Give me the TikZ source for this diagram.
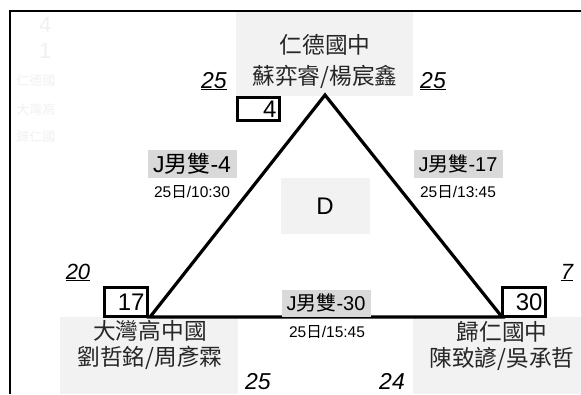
\documentclass[tikz,border=0pt]{standalone}
\usepackage{fontspec}
\setmainfont{Liberation Sans}
\newfontfamily\cjk{Noto Sans CJK TC}

\tikzset{
  namebg/.style={fill=gray!10},
  matchbg/.style={fill=gray!30, inner sep=1pt, minimum width=89pt, minimum height=28pt},
  edge/.style={line width=3.2pt},
  school/.style={font=\fontsize{22.7}{26}\selectfont\cjk, align=center, text=black!85},
  pts/.style={font=\fontsize{23}{26}\selectfont\itshape},
  seedbox/.style={draw, line width=3pt, text width=36pt, align=right,
    minimum height=23pt, inner sep=3pt, font=\fontsize{24}{26}\selectfont},
  matchname/.style={matchbg, font=\fontsize{20}{24}\selectfont},
  matchtime/.style={font=\fontsize{15.5}{18}\selectfont},
  faint/.style={text=gray!12, anchor=east}
}

\begin{document}
\begin{tikzpicture}[x=1pt, y=-1pt]
  % Page and frame
  \useasboundingbox (0,0) rectangle (581,394);
  \draw[line width=2pt] (10,394) -- (10,11) -- (581,11);

  % Faint list at the top left
  \node[faint, font=\fontsize{22}{24}\selectfont] (hidA) at (55,25) {4};
  \node[faint, font=\fontsize{22}{24}\selectfont] (hidB) at (55,51) {1};
  \node[faint, font=\fontsize{13}{15}\selectfont\cjk] (hidC) at (59,81) {仁德國};
  \node[faint, font=\fontsize{13}{15}\selectfont\cjk] (hidD) at (59,110) {大灣高};
  \node[faint, font=\fontsize{13}{15}\selectfont\cjk] (hidE) at (59,137) {歸仁國};

  % Shaded team boxes
  \fill[namebg] (236,12) rectangle (413,96);
  \fill[namebg] (60,317) rectangle (238,394);
  \fill[namebg] (413,317) rectangle (581,394);

  % Triangle of the group
  \coordinate (apex) at (325,95);
  \coordinate (west) at (150,317);
  \coordinate (east) at (502,317);
  \draw[edge] (apex) -- (west) -- (east) -- cycle;

  % Teams
  \node[school, font=\fontsize{22.7}{31}\selectfont\cjk] (renDe) at (325,61) {仁德國中\\蘇弈睿/楊宸鑫};
  \node[school] (daWan) at (150,345) {大灣高中國\\劉哲銘/周彥霖};
  \node[school] (guiRen) at (502,346) {歸仁國中\\陳致諺/吳承哲};

  % Seeds
  \node[seedbox, anchor=north west] (seedTop) at (236,96) {4};
  \node[seedbox, anchor=south east, minimum height=29pt, text width=37pt] (seedWest) at (149,318) {17};
  \node[seedbox, anchor=south west, minimum height=29pt, text width=37pt] (seedEast) at (501,318) {30};

  % Points
  \node[pts, anchor=base] (ptsA) at (214,88) {\underline{25}};
  \node[pts, anchor=base] (ptsB) at (433,88) {\underline{25}};
  \node[pts, anchor=base, font=\fontsize{22}{26}\selectfont\itshape] (ptsC) at (78,279) {\underline{20}};
  \node[pts, anchor=base, font=\fontsize{22}{26}\selectfont\itshape] (ptsD) at (567,279) {\underline{7}};
  \node[pts, anchor=base] (ptsE) at (258,389) {25};
  \node[pts, anchor=base] (ptsF) at (392,389) {24};

  % Matches
  \node[matchname, font=\fontsize{23}{26}\selectfont] (gameA) at (192,164) {J{\cjk 男雙}-4};
  \node[matchtime] (timeA) at (192,192) {25{\cjk 日}/10:30};
  \node[matchname] (gameB) at (458,164) {J{\cjk 男雙}-17};
  \node[matchtime] (timeB) at (458,192) {25{\cjk 日}/13:45};
  \node[matchname, minimum height=27pt] (gameC) at (326,303) {J{\cjk 男雙}-30};
  \node[matchtime] (timeC) at (327,332) {25{\cjk 日}/15:45};

  % Group name
  \node[namebg, minimum width=89pt, minimum height=56pt, font=\fontsize{24}{26}\selectfont] (group) at (325,206) {D};
\end{tikzpicture}
\end{document}
